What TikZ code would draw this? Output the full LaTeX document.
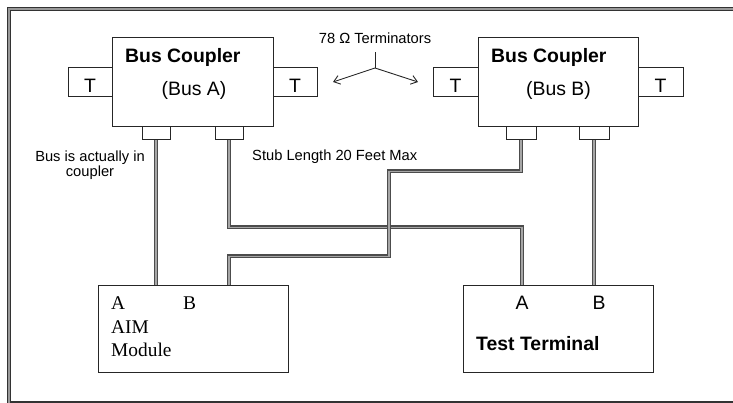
\documentclass[tikz,border=0pt]{standalone}
\usepackage{fontspec}
\setmainfont{Liberation Sans}
\newfontfamily\aimfont{Liberation Serif}
\usetikzlibrary{arrows.meta}

\begin{document}
\begin{tikzpicture}[x=1pt, y=-1pt,
  every node/.style={font=\fontsize{19.4}{23}\selectfont, inner sep=0pt},
  box/.style={draw=black!85, line width=1pt, fill=white},
  trmbox/.style={box, minimum height=29pt, text height=21pt, text depth=0pt},
  small/.style={font=\fontsize{14.7}{15.5}\selectfont},
  bus/.style={draw=black!70, line width=1.1pt, double=black!35, double distance=1.8pt}]
  \useasboundingbox (0,0) rectangle (733,403);
  \draw[black!80, line width=1.2pt, double=black!40, double distance=2pt] (8.8,8.8) rectangle (760,403.6);

  % bus couplers with terminators
  \node[trmbox, minimum width=44pt] (tAl) at (90,82.5) {T};
  \node[trmbox, minimum width=44pt] (tAr) at (295,82.5) {T};
  \node[box, minimum width=161pt, minimum height=89pt] (cplA) at (192.5,82.5) {};
  \node[anchor=west, font=\fontsize{19.4}{23}\selectfont\bfseries] (nmA) at (125,57) {Bus Coupler};
  \node (busA) at (194,90) {(Bus A)};
  \node[box, minimum width=28pt, minimum height=13pt] (sa1) at (156,133.5) {};
  \node[box, minimum width=28pt, minimum height=13pt] (sa2) at (229,133.5) {};

  \node[trmbox, minimum width=45pt] (tBl) at (455.5,82.5) {T};
  \node[trmbox, minimum width=45pt] (tBr) at (660.5,82.5) {T};
  \node[box, minimum width=160pt, minimum height=89pt] (cplB) at (558,82.5) {};
  \node[anchor=west, font=\fontsize{19.4}{23}\selectfont\bfseries] (nmB) at (491,57) {Bus Coupler};
  \node (busB) at (558.5,90) {(Bus B)};
  \node[box, minimum width=30pt, minimum height=13pt] (sb1) at (521,133.5) {};
  \node[box, minimum width=30pt, minimum height=13pt] (sb2) at (594,133.5) {};

  % terminal boxes
  \node[box, minimum width=190pt, minimum height=87pt] (aim) at (193,328.5) {};
  \node[anchor=west, font=\fontsize{19.4}{23}\aimfont] (aimA) at (111,303.5) {A};
  \node[anchor=west, font=\fontsize{19.4}{23}\aimfont] (aimB) at (183,303.5) {B};
  \node[anchor=west, font=\fontsize{19.4}{23}\aimfont] (aimT) at (111,327) {AIM};
  \node[anchor=west, font=\fontsize{19.4}{23}\aimfont] (aimM) at (111,350) {Module};

  \node[box, minimum width=190pt, minimum height=87pt] (tt) at (558,328.5) {};
  \node (ttA) at (522,303) {A};
  \node (ttB) at (599,303) {B};
  \node[anchor=west, font=\fontsize{19.4}{23}\selectfont\bfseries] (ttT) at (476,343.5) {Test Terminal};

  % stubs
  \draw[bus] (sa1.south) -- (sa1.south |- aim.north);
  \draw[bus] (sa2.south) -- ++(0,87) -| (ttA |- tt.north);
  \draw[bus] (sb1.south) -- ++(0,31) -| ++(-132,85) -| (sa2.south |- aim.north);
  \draw[bus] (sb2.south) -- (sb2.south |- tt.north);

  % labels
  \node[small] (trm) at (375,38.5) {78 Ω Terminators};
  \coordinate (fork) at (375,68);
  \coordinate (arrL) at (333,82);
  \coordinate (arrR) at (418,82);
  \draw[black!85, line width=0.9pt] (trm.south) ++(0,8) -- (fork);
  \draw[black!85, line width=0.9pt, -{Straight Barb[length=6pt,width=9pt]}] (fork) -- (arrL);
  \draw[black!85, line width=0.9pt, -{Straight Barb[length=6pt,width=9pt]}] (fork) -- (arrR);
  \node[small, align=center] (insd) at (90,165) {Bus is actually in\\coupler};
  \node[small, anchor=base west] (stub) at (252,161) {Stub Length 20 Feet Max};
\end{tikzpicture}
\end{document}
